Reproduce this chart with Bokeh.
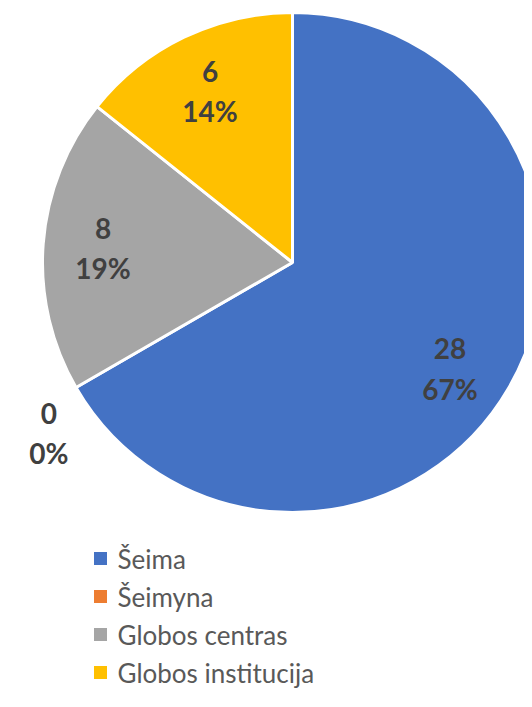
import numpy as np
from bokeh.plotting import figure
from bokeh.models import Range1d, ColumnDataSource
from bokeh.core.properties import value
from bokeh.embed import file_html
from bokeh.resources import INLINE

categories = ["Šeima", "Šeimyna", "Globos centras", "Globos institucija"]
counts = [28, 0, 8, 6]
colors = ["#4472C4", "#ED7D31", "#A5A5A5", "#FFC000"]

R = 250
W, H = 524, 691
cx_pix, cy_pix = 292, 262  # pie centre inside the figure (pixels)

total = float(sum(counts))
fracs = np.array(counts) / total
cum = np.concatenate([[0.0], np.cumsum(fracs)])
start = np.pi / 2 - cum[:-1] * 2 * np.pi
end = np.pi / 2 - cum[1:] * 2 * np.pi
mid = (start + end) / 2

pct = [f"{round(f * 100):.0f}%" for f in fracs]
is_zero = np.array(counts) == 0
lab_r = np.where(is_zero, R * 1.19, R * 0.76)
lab_ang = np.where(is_zero, mid + np.radians(5), mid - np.where(fracs > 0.5, np.radians(4), 0))
lab_x = lab_r * np.cos(lab_ang)
lab_y = lab_r * np.sin(lab_ang)

nz = [i for i, c in enumerate(counts) if c > 0]
wsrc = ColumnDataSource(dict(color=[colors[i] for i in nz],
                             start=[start[i] for i in nz],
                             end=[end[i] for i in nz]))
lsrc_lab = ColumnDataSource(dict(n=[str(c) for c in counts], pct=pct, lx=lab_x, ly=lab_y))

p = figure(width=W, height=H, output_backend="svg", toolbar_location=None,
           x_range=Range1d(-cx_pix, W - cx_pix),
           y_range=Range1d(cy_pix - H, cy_pix),
           min_border=0)
p.axis.visible = False
p.grid.visible = False
p.outline_line_color = None
p.background_fill_color = "white"

p.wedge(x=0, y=0, radius=R, start_angle="start", end_angle="end", direction="clock",
        fill_color="color", line_color="white", line_width=3, source=wsrc)

p.text(x="lx", y="ly", text="n", y_offset=-20, text_align="center", text_baseline="middle",
       text_font=value("Lato"), text_font_style="bold", text_font_size="28px",
       text_color="#404040", source=lsrc_lab)
p.text(x="lx", y="ly", text="pct", y_offset=20, text_align="center", text_baseline="middle",
       text_font=value("Lato"), text_font_style="bold", text_font_size="28px",
       text_color="#404040", source=lsrc_lab)

# legend
leg_x = 100 - cx_pix
leg_y0 = cy_pix - 558
step = 38
leg_y = [leg_y0 - i * step for i in range(len(categories))]
lsrc = ColumnDataSource(dict(cat=categories, color=colors, y=leg_y))
p.rect(x=leg_x, y="y", width=13, height=13, fill_color="color", line_color=None, source=lsrc)
p.text(x=leg_x + 17, y="y", text="cat", text_baseline="middle", text_align="left",
       text_font=value("Lato"), text_font_size="26px", text_color="#595959", source=lsrc)

open("out.html", "w").write(file_html(p, INLINE))
